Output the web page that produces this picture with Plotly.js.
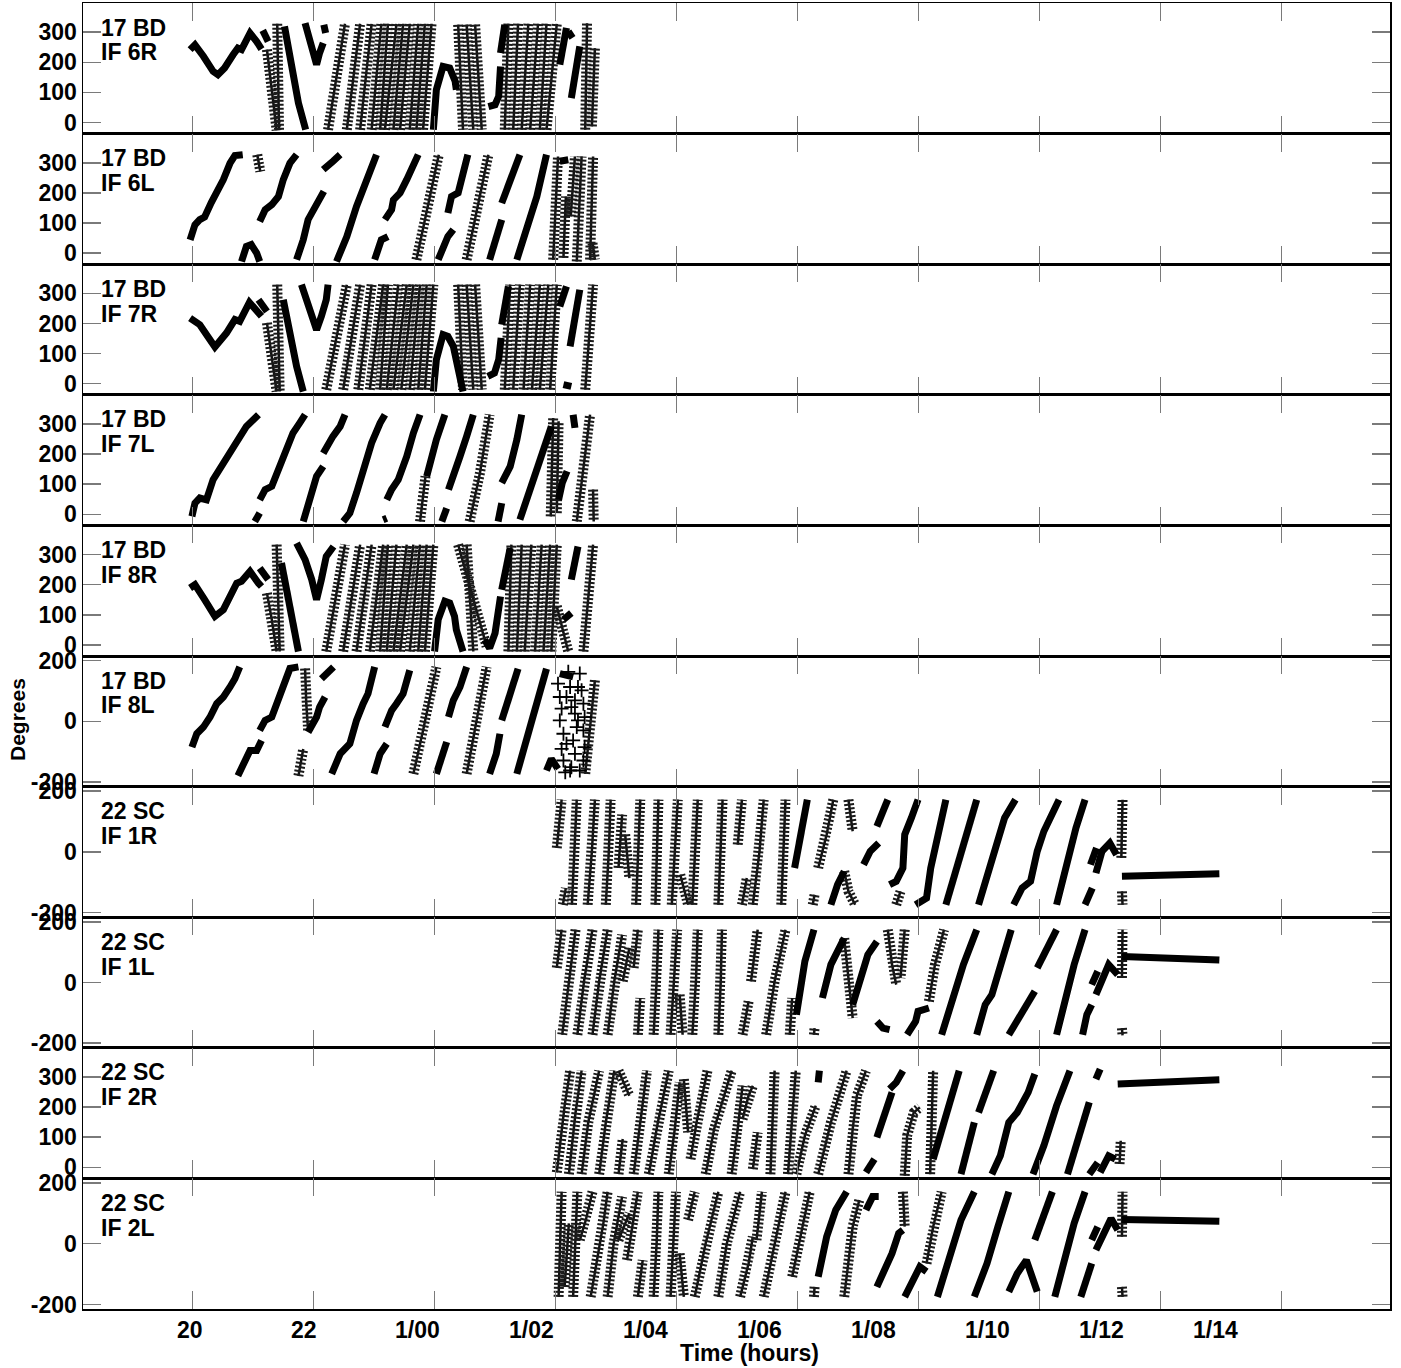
<!DOCTYPE html>
<html><head><meta charset="utf-8">
<script src="https://cdn.plot.ly/plotly-3.0.1.min.js"></script>
<style>body{margin:0;background:#fff}#chart{width:1401px;height:1368px}</style>
</head><body><div id="chart"></div>
<script>
// ---- labels / ticks ----
const panelLabels = [["17 BD","IF 6R"],["17 BD","IF 6L"],["17 BD","IF 7R"],["17 BD","IF 7L"],["17 BD","IF 8R"],
                     ["17 BD","IF 8L"],["22 SC","IF 1R"],["22 SC","IF 1L"],["22 SC","IF 2R"],["22 SC","IF 2L"]];
const panelKind = [360,360,360,360,360,180,180,180,360,180];
const timeTicks = [20,22,24,26,28,30,32,34,36,38];
const timeTickText = ["20","22","1/00","1/02","1/04","1/06","1/08","1/10","1/12","1/14"];
const degTicks360 = [0,100,200,300];
const degTicks180 = [-200,0,200];
const degTickText180 = ["-200","0","200"];

// ---- data: [hour, degrees] runs, per panel ----
const p6R_solid = [
 [[19.96,242],[20.04,258],[20.18,220],[20.34,170],[20.42,159],[20.53,181],[20.67,225],[20.75,247],[20.81,242],[20.89,275],[20.95,297],[21.06,269],[21.14,244]],
 [[21.16,306],[21.25,269]],
 [[21.52,319],[21.64,186],[21.75,65],[21.87,-24]],
 [[21.86,330],[21.97,253],[22.05,192],[22.10,231],[22.16,264]],
 [[22.17,325],[22.20,297]],
 [[23.98,-24],[24.03,109],[24.14,186],[24.25,181],[24.34,137],[24.36,109]],
 [[24.89,53],[25.00,59],[25.06,87],[25.09,186]],
 [[25.09,231],[25.16,325]],
 [[26.07,192],[26.18,314]],
 [[26.21,303],[26.28,281]],
 [[26.26,81],[26.35,186],[26.40,253]]
];
const p6R_hatch = [
 [[21.23,242],[21.30,131],[21.39,-26]],
 [[21.40,328],[21.43,-26]],
 [[22.24,-24],[22.52,328]],[[22.55,-24],[22.77,328]],[[22.77,-24],[22.96,328]],[[22.96,-24],[23.12,328]],
 [[23.10,-24],[23.23,328]],[[23.18,-24],[23.37,328]],[[23.32,-24],[23.48,328]],[[23.43,-24],[23.59,328]],
 [[23.59,-24],[23.73,328]],[[23.70,-24],[23.84,328]],[[23.81,-24],[23.95,328]],
 [[24.39,325],[24.47,-24]],[[24.53,325],[24.64,-24]],[[24.67,325],[24.78,-24]],
 [[25.16,-24],[25.22,328]],[[25.30,-24],[25.38,328]],[[25.44,-24],[25.55,328]],[[25.58,-24],[25.71,328]],
 [[25.74,-24],[25.85,328]],[[25.85,-24],[26.02,328]],
 [[26.49,-24],[26.52,330]],[[26.60,-13],[26.65,247]]
];

const p6L_solid = [
 [[19.96,44],[20.04,94],[20.12,111],[20.20,120],[20.31,168],[20.40,200],[20.51,244],[20.62,299],[20.70,324],[20.83,327]],
 [[20.81,-28],[20.89,22],[20.97,28],[21.06,0],[21.11,-28]],
 [[21.11,105],[21.20,144],[21.31,161],[21.42,188],[21.50,244],[21.61,299],[21.72,327]],
 [[21.72,-22],[21.83,44],[21.91,111],[21.99,144],[22.10,188],[22.17,205]],
 [[22.16,277],[22.24,294],[22.32,305],[22.44,327]],
 [[22.38,-28],[22.55,55],[22.71,155],[22.88,244],[23.04,327]],
 [[23.01,-22],[23.12,44],[23.23,55]],
 [[23.18,111],[23.29,144],[23.32,177],[23.43,200],[23.54,244],[23.65,299],[23.73,327]],
 [[24.06,-22],[24.22,55],[24.31,78]],
 [[24.22,133],[24.28,188],[24.39,200],[24.47,266],[24.55,327]],
 [[24.91,-22],[25.02,44],[25.11,111]],
 [[25.11,166],[25.19,210],[25.30,266],[25.41,327]],
 [[25.36,-22],[25.52,89],[25.69,188],[25.85,327]],
 [[26.07,305],[26.21,310]]
];
const p6L_hatch = [
 [[21.07,327],[21.12,271]],
 [[23.70,-22],[23.89,155],[24.07,327]],
 [[24.53,-22],[24.69,133],[24.89,327]],
 [[25.96,-22],[26.04,321]],[[26.13,-16],[26.17,188]],[[26.25,122],[26.32,321]],
 [[26.35,-28],[26.43,321]],[[26.57,-22],[26.62,321]],[[26.61,33],[26.65,-22]]
];

const p7R_solid = [
 [[19.96,218],[20.12,196],[20.37,122],[20.56,168],[20.70,213],[20.78,207],[20.94,270],[21.14,224]],
 [[21.09,279],[21.23,240]],
 [[21.50,279],[21.61,157],[21.72,57],[21.83,-26]],
 [[21.80,329],[21.91,257],[22.05,179],[22.13,224],[22.21,279],[22.24,329]],
 [[23.98,-26],[24.03,80],[24.14,163],[24.22,157],[24.31,124],[24.36,80],[24.47,-26]],
 [[24.88,24],[24.99,35],[25.06,80],[25.10,152]],
 [[25.11,196],[25.22,323]],
 [[26.07,257],[26.18,323]],
 [[26.24,124],[26.32,224],[26.40,312]],
 [[26.13,-3],[26.26,-9]]
];
const p7R_hatch = [
 [[21.23,202],[21.31,91],[21.39,-26]],
 [[21.40,329],[21.44,-26]],
 [[22.21,-20],[22.55,329]],[[22.49,-20],[22.77,329]],[[22.74,-20],[22.96,329]],[[22.93,-20],[23.15,329]],
 [[23.10,-20],[23.23,329]],[[23.21,-20],[23.40,329]],[[23.32,-20],[23.54,329]],[[23.45,-20],[23.65,329]],
 [[23.59,-20],[23.76,329]],[[23.73,-20],[23.87,329]],[[23.84,-20],[23.98,329]],
 [[24.39,329],[24.47,-20]],[[24.53,329],[24.64,-20]],[[24.67,329],[24.78,-20]],
 [[25.16,-20],[25.25,329]],[[25.30,-20],[25.41,329]],[[25.47,-20],[25.58,329]],[[25.61,-20],[25.74,329]],
 [[25.74,-20],[25.88,329]],[[25.91,-20],[26.02,329]],
 [[26.49,-20],[26.62,329]]
];

const p7L_solid = [
 [[19.99,-7],[20.04,37],[20.12,54],[20.23,48],[20.34,115],[20.51,170],[20.73,248],[20.89,292],[21.09,331]],
 [[21.03,-24],[21.11,4]],
 [[21.11,48],[21.20,82],[21.31,93],[21.44,159],[21.55,226],[21.66,270],[21.77,303],[21.86,331]],
 [[21.83,-24],[21.94,59],[22.05,126],[22.16,159]],
 [[22.16,203],[22.24,237],[22.32,259],[22.44,292],[22.52,331]],
 [[22.49,-24],[22.60,4],[22.71,71],[22.82,148],[22.96,237],[23.10,303],[23.18,331]],
 [[23.15,-18],[23.21,-13]],
 [[23.21,48],[23.29,82],[23.40,115],[23.54,192],[23.65,270],[23.76,331]],
 [[23.87,126],[24.03,248],[24.17,331]],
 [[24.12,-24],[24.20,20]],
 [[24.23,82],[24.31,137],[24.42,192],[24.53,259],[24.64,331]],
 [[25.05,-24],[25.11,37]],
 [[25.11,104],[25.25,159],[25.36,248],[25.44,331]],
 [[25.41,-18],[25.58,82],[25.74,192],[25.93,292]],
 [[26.05,48],[26.11,104],[26.19,143]],
 [[26.29,331],[26.32,287]]
];
const p7L_hatch = [
 [[23.76,-24],[23.85,126]],
 [[24.58,-24],[24.75,137],[24.91,331]],
 [[25.92,-7],[25.96,320]],[[26.02,4],[26.05,309]],
 [[26.35,-24],[26.46,148],[26.57,331]],
 [[26.62,82],[26.63,-24]]
];

const p8R_solid = [
 [[19.96,189],[20.04,200],[20.20,150],[20.37,95],[20.51,117],[20.62,167],[20.73,205],[20.81,211],[20.95,244],[21.09,205],[21.14,194]],
 [[21.11,255],[21.25,217]],
 [[21.47,272],[21.61,139],[21.75,-22]],
 [[21.72,338],[21.86,283],[21.97,217],[22.05,150],[22.13,217],[22.21,294],[22.33,327]],
 [[24.00,-22],[24.06,84],[24.17,145],[24.25,139],[24.33,95],[24.36,50],[24.47,-22]],
 [[24.83,17],[24.91,-11],[25.00,39],[25.09,161]],
 [[25.11,183],[25.25,322]],
 [[26.13,84],[26.26,106]],
 [[26.26,217],[26.37,327]]
];
const p8R_hatch = [
 [[21.23,172],[21.31,84],[21.39,-22]],
 [[21.39,333],[21.44,-22]],
 [[22.21,-22],[22.52,333]],[[22.49,-22],[22.77,333]],[[22.71,-22],[22.96,333]],[[22.93,-22],[23.15,333]],
 [[23.10,-22],[23.23,333]],[[23.21,-22],[23.37,333]],[[23.32,-22],[23.54,333]],[[23.43,-22],[23.65,333]],
 [[23.59,-22],[23.76,333]],[[23.73,-22],[23.87,333]],[[23.84,-22],[23.98,333]],
 [[24.39,333],[24.86,-5]],[[24.53,333],[24.64,-22]],
 [[25.22,-22],[25.27,333]],[[25.36,-22],[25.44,333]],[[25.49,-22],[25.60,333]],[[25.66,-22],[25.77,333]],
 [[25.80,-22],[25.91,333]],[[25.93,-22],[26.02,333]],
 [[26.02,128],[26.21,-22]],
 [[26.46,-22],[26.62,333]]
];

const p8L_solid = [
 [[19.99,-85],[20.07,-41],[20.18,-19],[20.29,14],[20.40,58],[20.51,80],[20.62,113],[20.70,140],[20.78,179]],
 [[20.75,-179],[20.86,-129],[20.95,-96],[21.06,-96],[21.14,-63]],
 [[21.11,-30],[21.20,3],[21.31,14],[21.44,80],[21.55,135],[21.61,174],[21.75,179]],
 [[21.91,-36],[22.05,14],[22.10,47],[22.19,80]],
 [[22.13,140],[22.21,157],[22.33,179]],
 [[22.30,-173],[22.44,-107],[22.60,-74],[22.71,3],[22.82,58],[22.90,91],[23.01,179]],
 [[23.00,-173],[23.10,-107],[23.21,-74]],
 [[23.18,-19],[23.29,36],[23.37,58],[23.48,91],[23.59,168]],
 [[24.03,-173],[24.14,-107],[24.20,-68]],
 [[24.23,14],[24.31,69],[24.42,113],[24.53,179]],
 [[24.91,-173],[25.02,-107],[25.08,-41]],
 [[25.11,3],[25.25,91],[25.38,173]],
 [[25.36,-173],[25.52,-63],[25.69,47],[25.85,173]],
 [[25.85,-162],[25.93,-124],[26.04,-157]],
 [[26.07,157],[26.29,146]]
];
const p8L_hatch = [
 [[21.86,174],[21.88,58],[21.91,-30]],
 [[21.75,-180],[21.83,-91]],
 [[23.65,-173],[23.81,-30],[24.03,179]],
 [[24.53,-173],[24.69,3],[24.86,179]],
 [[26.49,-173],[26.65,135]]
];
const p8L_pointsHour = [26.04,26.07,26.10,26.07,26.13,26.10,26.13,26.16, 26.21,26.24,26.32,26.32,26.35,26.29,26.32,26.26,
                        26.40,26.43,26.46,26.48,26.46,26.48,26.46, 26.18,26.26,26.37,26.18,26.24,26.40,26.37];
const p8L_pointsDeg  = [124,80,42,3,-41,-91,-129,-168, 163,113,69,25,-19,-63,-107,-151,
                        157,102,58,14,-30,-85,-129, 80,47,3,-74,-162,-162,113];

const p1R_hatch = [
 [[26.02,13],[26.10,172]],[[26.12,-174],[26.17,-119]],
 [[26.27,-174],[26.31,2],[26.35,172]],[[26.53,-174],[26.60,2],[26.65,172]],[[26.83,-174],[26.88,2],[26.91,172]],
 [[27.04,-53],[27.10,123]],[[27.15,57],[27.22,-86]],
 [[27.33,-174],[27.36,2],[27.40,172]],[[27.65,-174],[27.67,2],[27.70,172]],[[27.92,-174],[27.97,2],[28.02,172]],
 [[28.06,-75],[28.19,-174]],[[28.26,-174],[28.30,2],[28.35,172]],[[28.69,-174],[28.73,2],[28.76,172]],
 [[29.08,-174],[29.16,-86]],[[29.01,24],[29.08,172]],
 [[29.26,-174],[29.37,2],[29.44,172]],[[29.73,-174],[29.77,2],[29.80,172]],
 [[30.25,-174],[30.28,-141]],[[30.34,-53],[30.48,57],[30.59,172]],
 [[30.77,-64],[30.84,-130],[30.95,-174]],[[30.84,172],[30.91,68]],
 [[31.63,-174],[31.70,-130]],
 [[35.35,-20],[35.37,172]],[[35.36,-130],[35.37,-174]]
];
const p1R_solid = [
 [[29.95,-53],[30.05,57],[30.16,172]],
 [[30.55,-174],[30.66,-108],[30.77,-64]],
 [[31.09,-42],[31.20,2],[31.34,29]],
 [[31.31,84],[31.49,172]],
 [[31.52,-108],[31.63,-97],[31.74,-53],[31.77,57],[31.88,112],[31.99,172]],
 [[31.95,-174],[32.13,-152],[32.20,-53],[32.31,57],[32.45,172]],
 [[32.45,-174],[32.63,-53],[32.78,57],[32.96,172]],
 [[32.99,-174],[33.13,-75],[33.28,24],[33.42,112],[33.60,172]],
 [[33.57,-174],[33.71,-119],[33.85,-97],[33.89,-64],[33.96,2],[34.07,68],[34.32,172]],
 [[34.28,-174],[34.43,-53],[34.60,79],[34.75,172]],
 [[34.75,-174],[34.87,-119]],
 [[34.84,-42],[34.94,13]],
 [[34.93,-70],[35.03,2],[35.16,29],[35.27,-9]],
 [[35.36,-80],[36.15,-76],[36.97,-72]]
];

const p1L_hatch = [
 [[26.02,48],[26.10,174]],[[26.11,-172],[26.22,4],[26.33,174]],[[26.36,-172],[26.47,4],[26.61,174]],
 [[26.61,-172],[26.72,4],[26.86,174]],[[26.86,-172],[26.97,4],[27.10,157]],[[27.11,4],[27.22,114]],
 [[27.29,48],[27.36,174]],[[27.36,-172],[27.40,-51]],[[27.62,-172],[27.67,4],[27.70,174]],
 [[27.90,-172],[27.96,4],[28.01,174]],[[28.05,-40],[28.10,-172]],[[28.26,-172],[28.32,4],[28.35,174]],
 [[28.69,-172],[28.73,4],[28.75,174]],[[29.09,-172],[29.19,-62]],[[29.23,4],[29.34,174]],
 [[29.48,-172],[29.62,4],[29.80,174]],[[29.87,-172],[29.91,-51]],[[30.27,-172],[30.28,-150]],
 [[30.77,146],[30.84,4],[30.91,-117]],[[31.49,174],[31.56,59],[31.63,-7]],[[31.77,174],[31.70,15]],
 [[32.17,-62],[32.27,59],[32.42,174]],
 [[35.36,15],[35.37,174]],[[35.36,-150],[35.37,-174]]
];
const p1L_solid = [
 [[29.98,-106],[30.12,70],[30.27,174]],
 [[30.41,-51],[30.55,59],[30.77,146]],
 [[30.91,-73],[31.06,26],[31.16,91],[31.31,135]],
 [[31.31,-128],[31.41,-150],[31.52,-155]],
 [[31.81,-172],[31.95,-128],[31.99,-95],[32.17,-84]],
 [[32.38,-172],[32.56,-51],[32.74,59],[32.96,174]],
 [[32.96,-172],[33.03,-117],[33.10,-73],[33.21,-40],[33.35,59],[33.53,174]],
 [[33.49,-172],[33.63,-128],[33.74,-84],[33.85,-51],[33.92,-29]],
 [[33.96,48],[34.14,114],[34.28,174]],
 [[34.28,-172],[34.43,-51],[34.57,59],[34.75,174]],
 [[34.71,-172],[34.78,-106],[34.86,-73]],
 [[34.86,-7],[34.96,37]],
 [[34.93,-40],[35.03,4],[35.14,59],[35.29,26]],
 [[35.36,86],[36.15,81],[36.97,74]]
];

const p2R_hatch = [
 [[26.02,-17],[26.15,205],[26.24,321]],[[26.22,-23],[26.33,182],[26.43,321]],[[26.43,-23],[26.54,149],[26.72,321]],
 [[26.72,-23],[26.83,149],[26.97,321]],[[27.04,-23],[27.11,94]],[[27.04,321],[27.22,238]],
 [[27.29,-23],[27.40,149],[27.51,321]],[[27.54,-23],[27.69,149],[27.87,321]],[[27.87,-23],[27.97,127],[28.05,282]],
 [[28.12,293],[28.19,116]],[[28.23,27],[28.33,149],[28.51,321]],[[28.48,-23],[28.62,127],[28.91,321]],
 [[28.91,-23],[29.01,127],[29.09,271]],[[29.09,160],[29.19,238],[29.26,271]],[[29.26,-6],[29.34,116]],
 [[29.55,-23],[29.59,149],[29.62,321]],[[29.84,-23],[29.91,149],[29.97,321]],[[29.98,-23],[30.12,105],[30.30,205]],
 [[30.34,-23],[30.55,149],[30.81,321]],[[30.84,-23],[30.91,127],[30.98,238],[31.13,321]],
 [[31.77,-28],[31.81,105],[31.92,182],[32.02,199]],[[32.19,-23],[32.24,321]],
 [[35.32,11],[35.34,88]]
];
const p2R_solid = [
 [[30.34,282],[30.36,321]],
 [[31.13,-17],[31.27,27]],
 [[31.31,99],[31.49,205],[31.56,249]],
 [[31.52,260],[31.63,282],[31.74,321]],
 [[32.24,27],[32.42,149],[32.67,321]],
 [[32.70,-23],[32.81,61],[32.92,149]],
 [[32.99,182],[33.13,260],[33.24,321]],
 [[33.21,-23],[33.35,38],[33.49,149],[33.63,182],[33.81,249],[33.92,310]],
 [[33.89,-23],[34.07,72],[34.28,205],[34.50,321]],
 [[34.46,-23],[34.64,94],[34.82,216]],
 [[34.93,293],[35.00,326]],
 [[34.82,-23],[34.96,16]],
 [[35.00,-17],[35.14,38],[35.25,27]],
 [[35.29,277],[36.15,286],[36.97,291]]
];

const p2L_hatch = [
 [[26.05,-175],[26.10,171]],[[26.15,-142],[26.22,67]],[[26.29,-175],[26.33,1],[26.36,171]],
 [[26.40,12],[26.50,78],[26.61,171]],[[26.58,-175],[26.68,-54],[26.79,67],[26.86,171]],
 [[26.86,-175],[26.96,1],[27.10,155]],[[27.04,12],[27.22,100]],[[27.18,-54],[27.36,171]],
 [[27.36,-175],[27.44,-54]],[[27.62,-175],[27.67,1],[27.70,171]],[[27.90,-175],[27.94,1],[27.99,171]],
 [[28.05,-32],[28.12,-175]],[[28.19,78],[28.30,171]],[[28.30,-175],[28.48,1],[28.69,171]],
 [[28.69,-175],[28.83,1],[29.05,171]],[[29.05,-175],[29.19,-65],[29.26,23]],[[29.32,12],[29.41,171]],
 [[29.44,-175],[29.62,1],[29.80,171]],[[29.91,-109],[30.05,23],[30.20,171]],[[30.27,-175],[30.28,-142]],
 [[30.77,-175],[30.84,-54],[30.91,56],[31.02,144]],[[31.74,171],[31.77,56]],
 [[32.13,-65],[32.24,56],[32.38,171]],
 [[35.36,23],[35.37,171]],[[35.36,-142],[35.37,-175]]
];
const p2L_solid = [
 [[30.34,-109],[30.48,23],[30.63,111],[30.81,171]],
 [[31.13,111],[31.24,155],[31.34,155]],
 [[31.31,-142],[31.41,-98],[31.56,-32],[31.67,34],[31.74,45]],
 [[31.77,-175],[31.92,-120],[32.02,-76],[32.13,-92]],
 [[32.31,-175],[32.49,-54],[32.70,78],[32.92,171]],
 [[32.92,-175],[33.13,-65],[33.31,56],[33.49,171]],
 [[33.49,-158],[33.63,-98],[33.78,-54],[33.89,-109],[33.96,-158]],
 [[33.92,12],[34.07,100],[34.21,171]],
 [[34.25,-175],[34.39,-65],[34.57,67],[34.75,171]],
 [[34.68,-175],[34.78,-109],[34.86,-65]],
 [[34.86,12],[34.96,56]],
 [[34.93,-21],[35.07,34],[35.18,83],[35.29,45]],
 [[35.36,80],[36.15,77],[36.97,74]]
];

const panelSolid = [p6R_solid,p6L_solid,p7R_solid,p7L_solid,p8R_solid,p8L_solid,p1R_solid,p1L_solid,p2R_solid,p2L_solid];
const panelHatch = [p6R_hatch,p6L_hatch,p7R_hatch,p7L_hatch,p8R_hatch,p8L_hatch,p1R_hatch,p1L_hatch,p2R_hatch,p2L_hatch];

// ---- build ----
function flatten(runs){
  const x=[],y=[];
  runs.forEach(r=>{ r.forEach(p=>{x.push(p[0]);y.push(p[1]);}); x.push(null); y.push(null); });
  return {x,y};
}
const FONT = "Liberation Sans, Arial, Helvetica, sans-serif";
const NP = 10;
const XR = [18.19,39.79];
const traces = [];
const tf = {family:FONT,size:23,weight:'bold',color:'#000'};
const layout = {
  width:1401, height:1368, paper_bgcolor:'#fff', plot_bgcolor:'#fff',
  margin:{l:83,r:11,t:3,b:59}, showlegend:false,
  font:{family:FONT, size:23, color:'#000', weight:'bold'},
  annotations:[]
};
for(let k=0;k<NP;k++){
  const n = k===0?'':String(k+1);
  const xa='x'+n, ya='y'+n;
  const s = flatten(panelSolid[k]);
  const h = flatten(panelHatch[k]);
  traces.push({type:'scatter',mode:'lines',x:h.x,y:h.y,xaxis:xa,yaxis:ya,
    line:{color:'#111',width:2.5},hoverinfo:'skip'});
  traces.push({type:'scatter',mode:'lines',x:h.x,y:h.y,xaxis:xa,yaxis:ya,
    line:{color:'#1a1a1a',width:10,dash:'2px,2px'},hoverinfo:'skip'});
  traces.push({type:'scatter',mode:'lines',x:s.x,y:s.y,xaxis:xa,yaxis:ya,
    line:{color:'#000',width:7},hoverinfo:'skip'});
  if(k===5){
    traces.push({type:'scatter',mode:'markers',x:p8L_pointsHour,y:p8L_pointsDeg,xaxis:xa,yaxis:ya,
      marker:{symbol:'cross-thin',size:10,line:{width:1.8,color:'#000'}},hoverinfo:'skip'});
  }
  const is360 = panelKind[k]===360;
  layout['xaxis'+n] = {
    domain:[0,1], range:XR, anchor:ya,
    tickmode:'array', tickvals:timeTicks, ticktext:timeTickText,
    ticks:'inside', ticklen:18, tickwidth:1.5, tickcolor:'#7a7a7a',
    showline:true, linecolor:'#000', linewidth:1.5, mirror:'ticks',
    showgrid:false, zeroline:false, showticklabels:false
  };
  layout['yaxis'+n] = {
    domain:[1-(k+1)/NP, 1-k/NP], range: is360?[-37,397]:[-215,215], anchor:xa,
    tickmode:'array', tickvals: is360?degTicks360:degTicks180,
    ticktext: is360?degTicks360.map(String):degTickText180,
    ticks:'inside', ticklen:18, tickwidth:1.5, tickcolor:'#7a7a7a',
    showline:true, linecolor:'#000', linewidth:1.5, mirror:'ticks',
    showgrid:false, zeroline:false, tickfont:tf
  };
  const lines = panelLabels[k];
  [0.811,0.622].forEach((yy,i)=>{
    layout.annotations.push({xref:xa+' domain', yref:ya+' domain', x:0.0122, y:yy,
      xanchor:'left', yanchor:'middle', showarrow:false, text:lines[i], font:tf});
  });
}
// time tick labels: the reference prints them on a slightly compressed spacing
// (label i sits at 0.942 of its tick's distance from the "20" tick)
const labelScale = 0.942;
timeTicks.forEach((t,i)=>{
  const xl = timeTicks[0] + (t - timeTicks[0])*labelScale - 0.05;
  layout.annotations.push({xref:'x10', yref:'paper', x:xl, y:-0.0158, xanchor:'center', yanchor:'middle',
    showarrow:false, text:timeTickText[i], font:tf});
});
layout.annotations.push({xref:'paper',yref:'paper',x:-0.0497,y:0.451,textangle:-90,showarrow:false,
  xanchor:'center',yanchor:'middle',text:'Degrees',font:{family:FONT,size:21,weight:'bold',color:'#000'}});
layout.annotations.push({xref:'paper',yref:'paper',x:0.510,y:-0.0335,showarrow:false,
  xanchor:'center',yanchor:'middle',text:'Time (hours)',font:{family:FONT,size:23,weight:'bold',color:'#000'}});

Plotly.newPlot('chart',traces,layout,{staticPlot:true,displayModeBar:false});
</script>
</body></html>
